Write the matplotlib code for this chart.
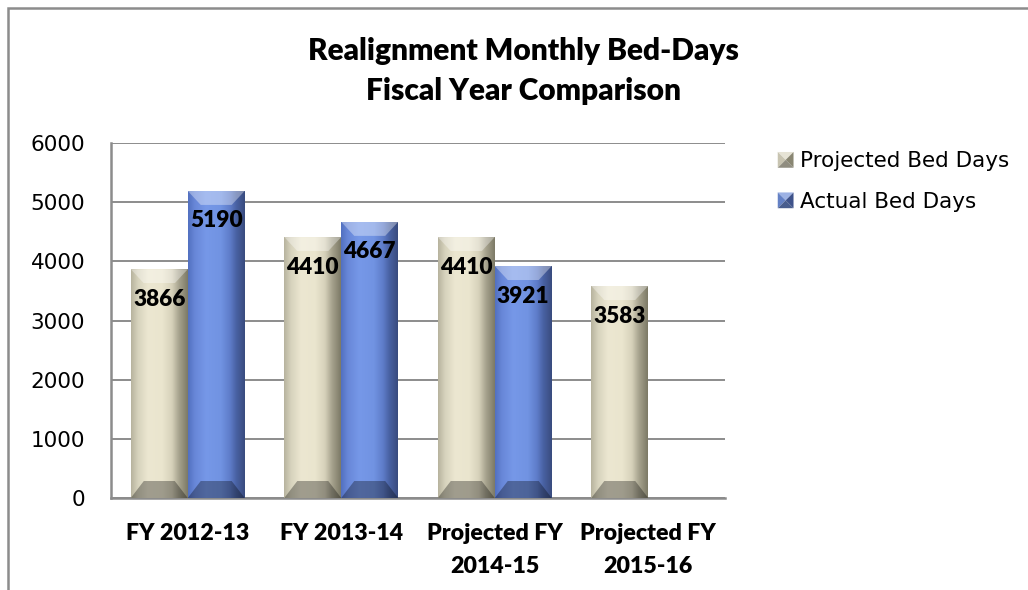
import numpy as np
import matplotlib
matplotlib.use("Agg")
import matplotlib.pyplot as plt
from matplotlib.colors import LinearSegmentedColormap
from matplotlib.patches import Polygon, Rectangle
from matplotlib.legend_handler import HandlerBase

# ---------------- data ----------------
categories = ["FY 2012-13", "FY 2013-14", "Projected FY\n2014-15", "Projected FY\n2015-16"]
projected = [3866, 4410, 4410, 3583]
actual = [5190, 4667, 3921, None]
series_names = ["Projected Bed Days", "Actual Bed Days"]
y_ticks = [0, 1000, 2000, 3000, 4000, 5000, 6000]

# ---------------- style ----------------
W, H = 1028, 590
DPI = 100
proj_stops = [(0.0, "#B7B39E"), (0.12, "#D6D2BC"), (0.3, "#ECE7D1"), (0.55, "#EAE5CE"),
              (0.72, "#D6D1BA"), (0.84, "#A8A48F"), (1.0, "#7C7966")]
act_stops = [(0.0, "#5270C0"), (0.12, "#6887D8"), (0.32, "#7698E8"), (0.58, "#7193E2"),
             (0.74, "#5E7CC9"), (0.85, "#4962A3"), (1.0, "#394B7E")]
proj_cmap = LinearSegmentedColormap.from_list("proj", proj_stops)
act_cmap = LinearSegmentedColormap.from_list("act", act_stops)

label_font = "Lato"
label_weight = "heavy"
tick_font = "DejaVu Sans"

fig = plt.figure(figsize=(W / DPI, H / DPI), dpi=DPI)
ax_l, ax_r, ax_t, ax_b = 111, 725, 143, 498
ax = fig.add_axes([ax_l / W, 1 - ax_b / H, (ax_r - ax_l) / W, (ax_b - ax_t) / H])

x = np.arange(len(categories))
bw = 0.371
ax.set_xlim(-0.5, len(categories) - 0.5)
ax.set_ylim(0, 6000)

act_vals = [np.nan if v is None else v for v in actual]
bars_p = ax.bar(x - bw / 2, projected, bw, color="#E8E4CC", zorder=2, linewidth=0)
bars_a = ax.bar(x + bw / 2, act_vals, bw, color="#7093E2", zorder=2, linewidth=0)

# pixel -> data conversions
px_x = (ax.get_xlim()[1] - ax.get_xlim()[0]) / (ax_r - ax_l)
px_y = (ax.get_ylim()[1] - ax.get_ylim()[0]) / (ax_b - ax_t)
bev_x = 13 * px_x
bev_y_top = 14 * px_y
bev_y_bot = 17 * px_y


def grad_fill(poly_xy, x0, x1, y0, y1, cmap, transform_fn=None, z=3):
    n = 256
    cols = cmap(np.linspace(0, 1, n))[:, :3]
    if transform_fn is not None:
        cols = transform_fn(cols)
    img = cols[np.newaxis, :, :]
    poly = Polygon(poly_xy, closed=True, transform=ax.transData, facecolor="none", edgecolor="none")
    ax.add_patch(poly)
    im = ax.imshow(img, extent=(x0, x1, y0, y1), aspect="auto", zorder=z, interpolation="bilinear")
    im.set_clip_path(poly)


def lighten(c):
    return c + (1 - c) * 0.35


def darken(c):
    return c * 0.68


def draw_bevel(bar, cmap):
    h = bar.get_height()
    if not np.isfinite(h) or h <= 0:
        return
    bar.set_visible(False)
    x0 = bar.get_x()
    x1 = x0 + bar.get_width()
    y0, y1 = 0, h
    grad_fill([(x0, y0), (x1, y0), (x1, y1), (x0, y1)], x0, x1, y0, y1, cmap, z=3)
    grad_fill([(x0, y1), (x1, y1), (x1 - bev_x, y1 - bev_y_top), (x0 + bev_x, y1 - bev_y_top)],
              x0, x1, y1 - bev_y_top, y1, cmap, lighten, z=4)
    grad_fill([(x0, y0), (x1, y0), (x1 - bev_x, y0 + bev_y_bot), (x0 + bev_x, y0 + bev_y_bot)],
              x0, x1, y0, y0 + bev_y_bot, cmap, darken, z=4)


for b in bars_p:
    draw_bevel(b, proj_cmap)
for b in bars_a:
    draw_bevel(b, act_cmap)

# value labels
for bars, vals in ((bars_p, projected), (bars_a, actual)):
    for b, v in zip(bars, vals):
        if v is None:
            continue
        ax.text(b.get_x() + b.get_width() / 2, v - 30 * px_y, f"{v}", ha="center", va="center",
                fontsize=16.3, fontweight=label_weight, family=label_font, color="black", zorder=6)

# axes styling
ax.set_yticks(y_ticks)
ax.yaxis.grid(True, color="#8C8C8C", linewidth=1.4, zorder=0)
ax.set_axisbelow(True)
for s in ["top", "right"]:
    ax.spines[s].set_visible(False)
for s in ["left", "bottom"]:
    ax.spines[s].set_color("#8C8C8C")
    ax.spines[s].set_linewidth(1.8)
ax.tick_params(axis="y", length=0, pad=18.5, labelsize=15.5, labelcolor="black")
ax.tick_params(axis="x", length=0, pad=18)
for lab in ax.get_yticklabels():
    lab.set_family(tick_font)
ax.set_xticks(x)
ax.set_xticklabels(categories, fontsize=16.7, fontweight=label_weight, family=label_font, linespacing=1.7)
ax.patch.set_alpha(0)

# title
fig.text(523 / W, 1 - 71 / H, "Realignment Monthly Bed-Days\nFiscal Year Comparison", ha="center",
         va="center", fontsize=21.5, fontweight=label_weight, family=label_font, linespacing=1.5)


# legend with bevelled square markers
class BevelHandler(HandlerBase):
    def __init__(self, cmap):
        super().__init__()
        self.cmap = cmap

    def create_artists(self, legend, orig_handle, xdescent, ydescent, width, height, fontsize, trans):
        s = min(width, height)
        cx0 = -xdescent + (width - s)
        cy0 = -ydescent + (height - s) / 2
        cx1, cy1 = cx0 + s, cy0 + s
        mx, my = (cx0 + cx1) / 2, (cy0 + cy1) / 2
        base = np.array(self.cmap(0.35)[:3])
        right = np.array(self.cmap(0.95)[:3])
        tris = [
            ([(cx0, cy1), (cx1, cy1), (mx, my)], lighten(base) * 0.95),
            ([(cx0, cy0), (cx0, cy1), (mx, my)], base * 0.85),
            ([(cx1, cy0), (cx1, cy1), (mx, my)], right),
            ([(cx0, cy0), (cx1, cy0), (mx, my)], darken(base) * 0.9),
        ]
        arts = []
        for pts, c in tris:
            arts.append(Polygon(pts, closed=True, facecolor=tuple(np.clip(c, 0, 1)),
                                edgecolor="none", transform=trans))
        return arts


h_p = Rectangle((0, 0), 1, 1)
h_a = Rectangle((0, 0), 1, 1)
leg = fig.legend([h_p, h_a], series_names, loc="upper left",
                 bbox_to_anchor=(758 / W, 1 - 132 / H), frameon=False,
                 handler_map={h_p: BevelHandler(proj_cmap), h_a: BevelHandler(act_cmap)},
                 handlelength=0.75, handleheight=0.75, handletextpad=0.3, labelspacing=0.95,
                 prop={"family": tick_font, "size": 15.5})

# outer frame (top and left visible, extends past right/bottom)
fig.patches.append(Rectangle((8 / W, -0.1), 1.2, (1 - 8 / H) + 0.1, transform=fig.transFigure,
                             facecolor="none", edgecolor="#8C8C8C", linewidth=1.8, zorder=0))

fig.savefig("out.png", dpi=DPI)
